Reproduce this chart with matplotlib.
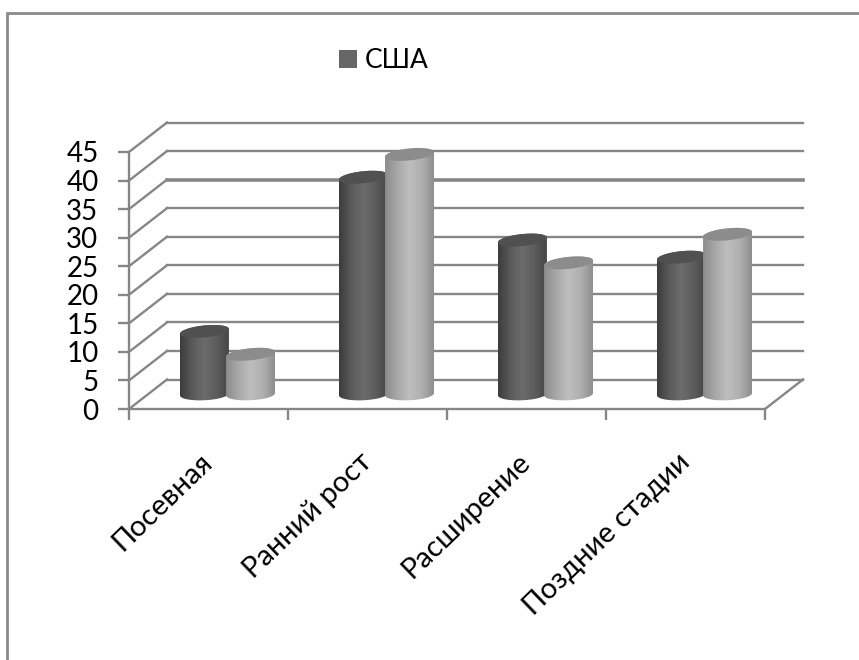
import numpy as np
import matplotlib
matplotlib.use('Agg')
import matplotlib.pyplot as plt
from matplotlib.patches import Patch, Polygon

matplotlib.rcParams['font.family'] = ['Lato', 'Open Sans', 'DejaVu Sans']

# ── Данные ──
categories = ['Посевная', 'Ранний рост', 'Расширение', 'Поздние стадии']
dark_values = [11, 38, 27, 24]
light_values = [7, 42, 23, 28]
y_ticks = list(range(0, 50, 5))
legend_label = 'США'

W, H = 859, 660
LEFT, RIGHT, BOTTOM, TOP = 129, 765, 409, 152   # передняя плоскость, пиксели

GRAY = '#868686'
DX = 38 / ((RIGHT - LEFT) / 4)                  # глубина в единицах данных
DY = 29.5 / ((BOTTOM - TOP) / 45)
HALF_W = 0.154
SHIFT = 0.145
ELL_H = 1.05
TILT = 0.42

fig = plt.figure(figsize=(W / 100, H / 100), dpi=100)
ax = fig.add_axes([LEFT / W, 1 - BOTTOM / H, (RIGHT - LEFT) / W, (BOTTOM - TOP) / H])
ax.set_xlim(0, 4)
ax.set_ylim(0, 45)
ax.patch.set_visible(False)

# Рамка диаграммы: видны только верх и левый край
fig.add_artist(plt.Line2D([7 / W, 7 / W, 1], [0, 1 - 13 / H, 1 - 13 / H], color='#8a8a8a',
                          linewidth=2.0, solid_joinstyle='miter'))

# ── Сетка ──
for v in y_ticks:
    lw = 2.6 if v == 35 else 1.7
    ax.plot([DX, 4 + DX], [v + DY, v + DY], color=GRAY, lw=lw, clip_on=False, zorder=1)
    ax.plot([0, DX], [v, v + DY], color=GRAY, lw=1.7, clip_on=False, zorder=1)
ax.plot([4, 4 + DX], [0, DY], color=GRAY, lw=1.7, clip_on=False, zorder=1)

for s in ['top', 'right']:
    ax.spines[s].set_visible(False)
for s in ['left', 'bottom']:
    ax.spines[s].set_color(GRAY)
    ax.spines[s].set_linewidth(1.7)

ax.set_yticks(y_ticks)
ax.set_xticks(range(5))
ax.set_xticklabels([])
ax.set_xticks([i + 0.5 for i in range(4)], minor=True)
ax.set_xticklabels(categories, minor=True, rotation=44, ha='right', va='center',
                   rotation_mode='anchor', fontsize=21)
ax.tick_params(axis='y', length=8, width=1.7, color=GRAY, labelsize=20, pad=14)
ax.tick_params(axis='x', which='major', length=8, width=1.7, color=GRAY)
ax.tick_params(axis='x', which='minor', length=0, pad=35)

dark_cmap = matplotlib.colors.LinearSegmentedColormap.from_list(
    'dark', ['#3c3c3c', '#5a5a5a', '#6c6c6c', '#5c5c5c', '#464646'])
light_cmap = matplotlib.colors.LinearSegmentedColormap.from_list(
    'light', ['#8c8c8c', '#a8a8a8', '#bebebe', '#b0b0b0', '#8e8e8e'])
ramp = np.linspace(0, 1, 128).reshape(1, -1)


def cylinder(cx, value, cmap, top_color, z):
    # цилиндр: тело с градиентом и верхний эллипс с наклоном
    base = DY / 2
    x0 = cx + DX / 2
    t = np.linspace(0, np.pi, 40)
    top_y = base + value
    upper = np.column_stack([x0 + HALF_W * np.cos(t),
                             top_y + ELL_H * np.sin(t) + TILT * np.cos(t)])
    lower = np.column_stack([x0 + HALF_W * np.cos(t + np.pi),
                             base + ELL_H * np.sin(t + np.pi) + 0.2 * np.cos(t + np.pi)])
    body = Polygon(np.vstack([upper, lower]), closed=True, transform=ax.transData,
                   facecolor='none', edgecolor='none')
    ax.add_patch(body)
    im = ax.imshow(ramp, cmap=cmap, vmin=0, vmax=1, aspect='auto', zorder=z,
                   extent=[x0 - HALF_W, x0 + HALF_W, base - 2, top_y + 2],
                   interpolation='bilinear')
    im.set_clip_path(body)
    t2 = np.linspace(0, 2 * np.pi, 80)
    cap = np.column_stack([x0 + HALF_W * np.cos(t2),
                           top_y + ELL_H * np.sin(t2) + TILT * np.cos(t2)])
    ax.add_patch(Polygon(cap, closed=True, facecolor=top_color, edgecolor='none',
                         zorder=z + 0.1, clip_on=False))


for i in range(len(categories)):
    cylinder(i + 0.5 - SHIFT, dark_values[i], dark_cmap, '#505050', 3 + i)
    cylinder(i + 0.5 + SHIFT, light_values[i], light_cmap, '#8c8c8c', 3.5 + i)

ax.set_xlim(0, 4)
ax.set_ylim(0, 45)

# ── Легенда ──
fig.legend(handles=[Patch(facecolor='#666666', edgecolor='none')], labels=[legend_label],
           loc='center left', bbox_to_anchor=(339 / W, 1 - 61 / H), frameon=False,
           fontsize=19, handlelength=0.68, handleheight=0.68, handletextpad=0.3,
           borderpad=0, borderaxespad=0)

fig.savefig('out.png', dpi=100, facecolor='white')
